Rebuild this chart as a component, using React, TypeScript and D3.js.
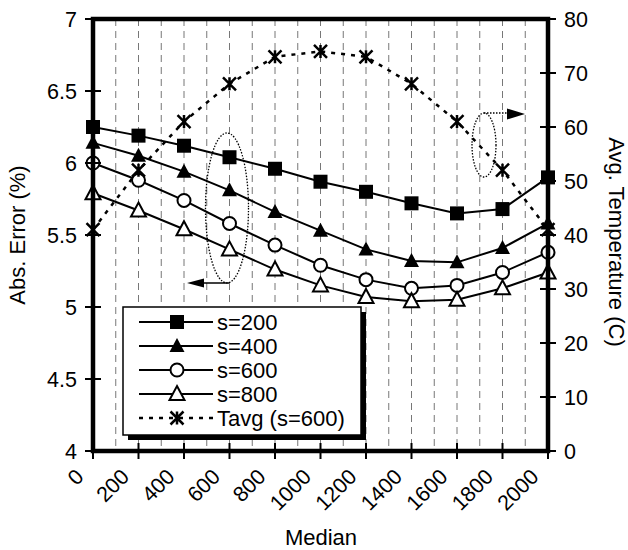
import React from 'react';
import * as d3 from 'd3';

const medians = [0, 200, 400, 600, 800, 1000, 1200, 1400, 1600, 1800, 2000];
const s200 = [6.25, 6.19, 6.12, 6.04, 5.96, 5.87, 5.8, 5.72, 5.65, 5.68, 5.9];
const s400 = [6.14, 6.05, 5.94, 5.81, 5.66, 5.53, 5.4, 5.32, 5.31, 5.41, 5.58];
const s600 = [6.0, 5.88, 5.74, 5.58, 5.43, 5.29, 5.19, 5.13, 5.15, 5.24, 5.38];
const s800 = [5.79, 5.67, 5.54, 5.4, 5.26, 5.15, 5.07, 5.04, 5.05, 5.13, 5.24];
const tavg = [41, 52, 61, 68, 73, 74, 73, 68, 61, 52, 41];
const leftTicks = [4, 4.5, 5, 5.5, 6, 6.5, 7];
const rightTicks = [0, 10, 20, 30, 40, 50, 60, 70, 80];
const gridVals = d3.range(100, 2000, 100);

const W = 628;
const H = 550;
const L = 93, R = 548, T = 19, B = 451;
const font = 'Arial, "Liberation Sans", sans-serif';

const x = d3.scaleLinear().domain([0, 2000]).range([L, R]);
const yL = d3.scaleLinear().domain([4, 7]).range([B, T]);
const yR = d3.scaleLinear().domain([0, 80]).range([B, T]);

type Kind = 'square' | 'triFill' | 'circle' | 'triOpen' | 'star';

function Marker({ kind, cx, cy }: { kind: Kind; cx: number; cy: number }) {
  if (kind === 'square') {
    return <rect x={cx - 7} y={cy - 7} width={14} height={14} fill="black" />;
  }
  if (kind === 'circle') {
    return <circle cx={cx} cy={cy} r={6.5} fill="white" stroke="black" strokeWidth={2} />;
  }
  if (kind === 'triFill' || kind === 'triOpen') {
    const p = `M${cx},${cy - 8} L${cx + 7.5},${cy + 6} L${cx - 7.5},${cy + 6} Z`;
    return kind === 'triFill'
      ? <path d={p} fill="black" />
      : <path d={p} fill="white" stroke="black" strokeWidth={2} />;
  }
  const h = 6.5;
  return (
    <path
      d={`M${cx - h},${cy - h} L${cx + h},${cy + h} M${cx - h},${cy + h} L${cx + h},${cy - h} M${cx},${cy - h} L${cx},${cy + h}`}
      stroke="black"
      strokeWidth={2.5}
      fill="none"
    />
  );
}

const series: { name: string; vals: number[]; kind: Kind; right?: boolean }[] = [
  { name: 's=200', vals: s200, kind: 'square' },
  { name: 's=400', vals: s400, kind: 'triFill' },
  { name: 's=600', vals: s600, kind: 'circle' },
  { name: 's=800', vals: s800, kind: 'triOpen' },
  { name: 'Tavg (s=600)', vals: tavg, kind: 'star', right: true },
];

export default function App() {
  return (
    <svg width={W} height={H} style={{ position: 'absolute', left: 0, top: 0, background: 'white' }} fontFamily={font}>
      <rect width={W} height={H} fill="white" />
      {gridVals.map(v => (
        <line key={v} x1={x(v)} x2={x(v)} y1={T} y2={B} stroke="#777" strokeWidth={1} strokeDasharray="7,5" />
      ))}
      {/* annotation ellipses */}
      <ellipse cx={227} cy={208} rx={21.5} ry={75} fill="none" stroke="black" strokeWidth={1.3} strokeDasharray="1.5,1.5" />
      <line x1={229} x2={202} y1={283} y2={283} stroke="black" strokeWidth={1.5} />
      <path d="M187,283 L204,278.5 L204,287.5 Z" fill="black" />
      <ellipse cx={484} cy={145} rx={12} ry={32} fill="none" stroke="black" strokeWidth={1.3} strokeDasharray="1.5,1.5" />
      <line x1={484} x2={508} y1={113} y2={113} stroke="black" strokeWidth={1.3} strokeDasharray="1.5,1.5" />
      <path d="M525,114 L507,108.5 L507,119.5 Z" fill="black" />

      {series.map(s => {
        const yy = s.right ? yR : yL;
        const line = d3.line<number>().x((_, i) => x(medians[i])).y(v => yy(v));
        return (
          <g key={s.name}>
            <path
              d={line(s.vals) || ''}
              fill="none"
              stroke="black"
              strokeWidth={s.right ? 2.5 : 2}
              strokeDasharray={s.right ? '4,6' : undefined}
            />
            {s.vals.map((v, i) => (
              <Marker key={i} kind={s.kind} cx={x(medians[i])} cy={yy(v)} />
            ))}
          </g>
        );
      })}

      {/* legend */}
      <rect x={128} y={312} width={238} height={128} fill="black" />
      <rect x={123} y={307} width={238} height={128} fill="white" stroke="black" strokeWidth={1.5} />
      {series.map((s, i) => {
        const ly = 322 + i * 24;
        return (
          <g key={s.name}>
            <line
              x1={139}
              x2={213}
              y1={ly}
              y2={ly}
              stroke="black"
              strokeWidth={s.right ? 2.5 : 2}
              strokeDasharray={s.right ? '4,6' : undefined}
            />
            <Marker kind={s.kind} cx={177} cy={ly} />
            <text x={217} y={ly} dy="0.36em" fontSize={22}>{s.name}</text>
          </g>
        );
      })}

      {/* frame */}
      <rect x={L} y={T} width={R - L} height={B - T} fill="none" stroke="black" strokeWidth={4.5} />

      {/* left axis */}
      {leftTicks.map(v => (
        <g key={v}>
          <line x1={L - 8} x2={L + 8} y1={yL(v)} y2={yL(v)} stroke="black" strokeWidth={2} />
          <text x={77} y={yL(v)} dy="0.36em" textAnchor="end" fontSize={21.5}>{v}</text>
        </g>
      ))}
      {/* right axis */}
      {rightTicks.map(v => (
        <g key={v}>
          <line x1={R - 8} x2={R + 8} y1={yR(v)} y2={yR(v)} stroke="black" strokeWidth={2} />
          <text x={564} y={yR(v)} dy="0.36em" fontSize={21.5}>{v}</text>
        </g>
      ))}
      {/* bottom axis */}
      {medians.map(v => (
        <g key={v}>
          <line x1={x(v)} x2={x(v)} y1={B - 8} y2={B + 8} stroke="black" strokeWidth={2} />
          <text transform={`translate(${x(v) - 8},${478}) rotate(-45)`} textAnchor="end" fontSize={21.5}>{v}</text>
        </g>
      ))}

      <text transform="translate(25,235) rotate(-90)" textAnchor="middle" fontSize={22}>Abs. Error (%)</text>
      <text transform="translate(609,242) rotate(90)" textAnchor="middle" fontSize={22}>Avg. Temperature (C)</text>
      <text x={321} y={545} textAnchor="middle" fontSize={22}>Median</text>
    </svg>
  );
}
